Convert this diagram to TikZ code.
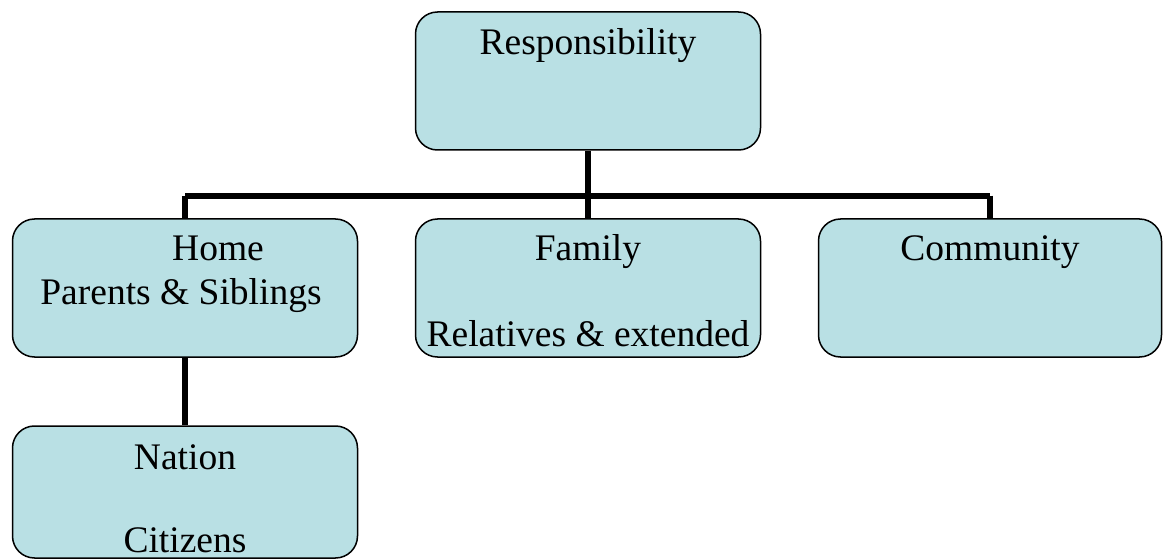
\documentclass[tikz,border=0pt]{standalone}
\usepackage{fontspec}
\setmainfont{Liberation Serif}
\definecolor{boxfill}{RGB}{185,224,228}
\begin{document}
\begin{tikzpicture}[x=1pt,y=-1pt,
  orgbox/.style={draw=black, line width=1.5pt, fill=boxfill, rounded corners=22pt,
    minimum width=345pt, minimum height=138pt, inner sep=0pt},
  label/.style={anchor=base, inner sep=0pt, font=\fontsize{37.5}{44}\selectfont},
  conn/.style={line width=6pt}]
\useasboundingbox (0,0) rectangle (1163,559);
% boxes
\node[orgbox] (resp) at (588,81) {};
\node[orgbox] (home) at (185,288) {};
\node[orgbox] (family) at (588,288) {};
\node[orgbox, minimum width=343pt] (community) at (990,288) {};
\node[orgbox, minimum height=132pt] (nation) at (185,492) {};
% connectors
\draw[conn] (resp.south) -- ++(0,45) coordinate (bar);
\draw[conn] (bar -| home.north) -- (bar -| community.north);
\draw[conn] (bar -| home.north) -- (home.north);
\draw[conn] (bar) -- (family.north);
\draw[conn] (bar -| community.north) -- (community.north);
\draw[conn] (home.south) -- (nation.north);
% texts
\node[label] (tresp) at (588,55) {Responsibility};
\node[label] (thome) at (218,261) {Home};
\node[label] (tpar) at (181,304) {Parents \& Siblings};
\node[label] (tfam) at (588,261) {Family};
\node[label] (trel) at (588,346) {Relatives \& extended};
\node[label] (tcom) at (990,261) {Community};
\node[label] (tnat) at (185,469) {Nation};
\node[label] (tcit) at (185,552) {Citizens};
\end{tikzpicture}
\end{document}
